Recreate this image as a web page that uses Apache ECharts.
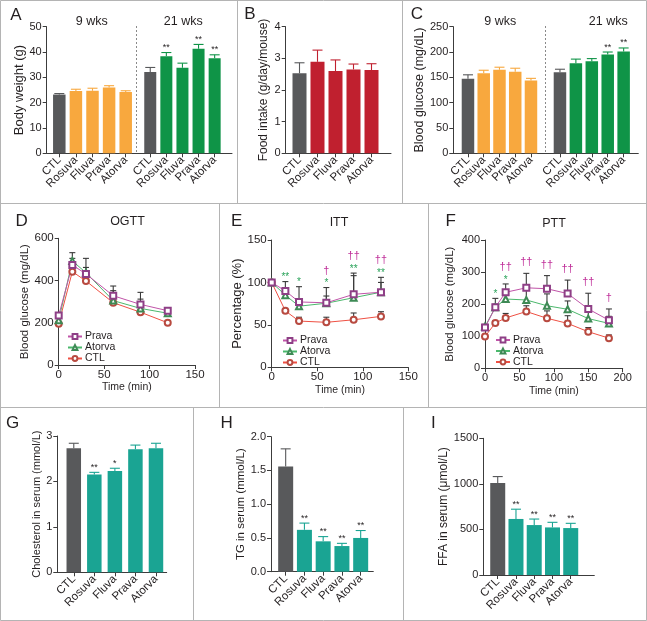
<!DOCTYPE html>
<html><head><meta charset="utf-8">
<script src="https://cdn.jsdelivr.net/npm/echarts@6/dist/echarts.min.js"></script>
<style>html,body{margin:0;padding:0;background:#fff}#c{width:647px;height:621px}</style>
</head><body><div id="c"></div>
<script>
// ---------------- DATA ----------------
const groups = ['CTL', 'Rosuva', 'Fluva', 'Prava', 'Atorva'];
// A: body weight (g)
const bw9 = [23.2, 24.6, 24.7, 26.0, 24.2];
const bw9Err = [23.6, 25.3, 25.7, 26.7, 24.7];
const bw21 = [32.1, 38.3, 33.8, 41.3, 37.5];
const bw21Err = [33.9, 39.8, 35.6, 43.0, 38.9];
const bw21Sig = ['', '**', '', '**', '**'];
// B: food intake
const food = [2.53, 2.89, 2.60, 2.65, 2.63];
const foodErr = [2.86, 3.26, 2.95, 2.82, 2.83];
// C: blood glucose
const glu9 = [147, 158, 165, 161, 144];
const glu9Err = [155, 164, 170, 168, 148];
const glu21 = [160, 178, 182, 195, 201];
const glu21Err = [166, 186, 187, 200, 208];
const glu21Sig = ['', '', '', '**', '**'];
// D: OGTT
const ogttTime = [0, 15, 30, 60, 90, 120];
const ogttPrava = [234, 474, 431, 328, 287, 257];
const ogttPravaErr = [245, 505, 462, 374, 344, 272];
const ogttAtorva = [212, 493, 437, 305, 268, 245];
const ogttAtorvaErr = [224, 532, 505, 352, 312, 262];
const ogttCTL = [195, 442, 398, 295, 250, 200];
const ogttCTLErr = [205, 458, 412, 308, 262, 210];
// E: ITT
const ittTime = [0, 15, 30, 60, 90, 120];
const ittPrava = [100, 90, 77, 76, 86, 88.5];
const ittPravaErr = [100, 101, 95, 94, 111, 106];
const ittAtorva = [100, 85, 72, 75.5, 82, 88.5];
const ittAtorvaErr = [100, 92, 80, 84, 108, 100];
const ittCTL = [100, 66.5, 54.5, 53, 56, 60];
const ittCTLErr = [100, 68, 59, 59, 64, 65.5];
const ittAtorvaSig = ['', '**', '*', '*', '**', '**'];
const ittPravaSig = ['', '', '', '\u2020', '\u2020\u2020', '\u2020\u2020'];
// F: PTT
const pttTime = [0, 15, 30, 60, 90, 120, 150, 180];
const pttPrava = [127, 190, 237, 251, 248, 233, 185, 150];
const pttPravaErr = [135, 218, 263, 296, 289, 275, 234, 185];
const pttAtorva = [130, 190, 216, 213, 195, 184, 155, 140];
const pttAtorvaErr = [137, 200, 240, 250, 232, 210, 178, 162];
const pttCTL = [99, 141, 157, 177, 156, 140, 114, 94];
const pttCTLErr = [104, 147, 171, 195, 179, 164, 127, 104];
const pttAtorvaSig = ['', '*', '*', '', '', '', '', ''];
const pttPravaSig = ['', '', '\u2020\u2020', '\u2020\u2020', '\u2020\u2020', '\u2020\u2020', '\u2020\u2020', '\u2020'];
// G: cholesterol
const chol = [2.73, 2.15, 2.23, 2.71, 2.73];
const cholErr = [2.84, 2.20, 2.29, 2.80, 2.84];
const cholSig = ['', '**', '*', '', ''];
// H: TG
const tg = [1.56, 0.62, 0.45, 0.38, 0.50];
const tgErr = [1.82, 0.72, 0.52, 0.42, 0.61];
const tgSig = ['', '**', '**', '**', '**'];
// I: FFA
const ffa = [1010, 615, 548, 522, 515];
const ffaErr = [1080, 722, 614, 578, 567];
const ffaSig = ['', '**', '**', '**', '**'];

// ---------------- STYLE ----------------
const FF = "'Liberation Sans', Arial, Helvetica, sans-serif";
const TXT = '#231f20', AX = '#3c3c3c', BORDER = '#b4b4b4';
const GRAY = '#58595b', ORANGE = '#f8a83e', GREEN = '#0f9447', RED = '#c0202f', TEAL = '#1aa493';
const ERRC = '#3a3a3a', SIG_G = '#2aa35a', SIG_M = '#c0309a';

const option = {animation: false, backgroundColor: '#ffffff', textStyle: {fontFamily: FF},
  grid: [], xAxis: [], yAxis: [], series: [], legend: [], graphic: []};

function addGrid(r) { option.grid.push(Object.assign({containLabel: false}, r)); return option.grid.length - 1; }

function makeY(gi, y) {
  return {gridIndex: gi, type: 'value', min: y.min, max: y.max, interval: y.interval,
    name: y.name, nameLocation: 'middle', nameGap: y.gap, nameRotate: 90,
    nameTextStyle: {fontSize: y.nameSize, color: TXT, fontFamily: FF},
    axisLine: {show: true, onZero: false, lineStyle: {color: AX, width: 1}},
    axisTick: {show: true, length: 4, lineStyle: {color: AX}},
    axisLabel: {show: true, fontSize: y.labelSize || 11, color: TXT, fontFamily: FF, margin: 5,
      formatter: y.fmt || (v => String(v))},
    splitLine: {show: false}};
}

function errRender(colorOf, cap, sigs, sigSize) {
  return function (params, api) {
    const i = params.dataIndex;
    const base = api.coord([api.value(0), api.value(1)]);
    const top = api.coord([api.value(0), api.value(2)]);
    const c = colorOf(i);
    const ch = [
      {type: 'line', shape: {x1: base[0], y1: base[1], x2: top[0], y2: top[1]}, style: {stroke: c, lineWidth: 1.1}},
      {type: 'line', shape: {x1: top[0] - cap, y1: top[1], x2: top[0] + cap, y2: top[1]}, style: {stroke: c, lineWidth: 1.1}}
    ];
    if (sigs && sigs[i]) ch.push({type: 'text', x: top[0], y: top[1] - 5, style: {text: sigs[i], fill: TXT,
      fontSize: sigSize, fontFamily: FF, align: 'center', textAlign: 'center', verticalAlign: 'middle', textVerticalAlign: 'middle'}});
    return {type: 'group', children: ch};
  };
}

function addBarBase(rect, y) {
  const gi = addGrid(rect);
  option.xAxis.push({gridIndex: gi, type: 'value', min: 0, max: 1,
    axisLine: {show: true, onZero: false, lineStyle: {color: AX, width: 1}},
    axisTick: {show: false}, axisLabel: {show: false}, splitLine: {show: false}});
  option.yAxis.push(makeY(gi, y));
}

function addBarGroup(rect, y, vals, errs, sigs, color, bw, cap, labelSize) {
  const gi = addGrid(rect);
  option.xAxis.push({gridIndex: gi, type: 'category', data: groups,
    axisLine: {show: false}, axisTick: {show: true, alignWithLabel: true, length: 4, lineStyle: {color: AX}},
    axisLabel: {interval: 0, rotate: 45, fontSize: labelSize || 11, color: TXT, fontFamily: FF, margin: 5},
    splitLine: {show: false}});
  option.yAxis.push({gridIndex: gi, type: 'value', min: y.min, max: y.max, show: false});
  const colorOf = i => (i === 0 ? GRAY : color);
  option.series.push({type: 'bar', xAxisIndex: gi, yAxisIndex: gi, data: vals, barWidth: bw,
    itemStyle: {color: p => colorOf(p.dataIndex)}, silent: true, z: 2});
  option.series.push({type: 'custom', xAxisIndex: gi, yAxisIndex: gi,
    data: vals.map((v, i) => [i, v, errs[i]]), encode: {x: 0, y: [1, 2]},
    renderItem: errRender(colorOf, cap, sigs, 9), z: 3, silent: true});
}

function sigRender(greenSig, magSig) {
  return function (params, api) {
    const i = params.dataIndex;
    const p = api.coord([api.value(0), api.value(1)]);
    const ch = [];
    if (greenSig[i]) ch.push({type: 'text', x: p[0], y: p[1] - 4, style: {text: greenSig[i], fill: SIG_G, fontSize: 10,
      fontFamily: FF, align: 'center', textAlign: 'center', verticalAlign: 'middle', textVerticalAlign: 'middle'}});
    if (magSig[i]) ch.push({type: 'text', x: p[0], y: p[1] - (greenSig[i] ? 17 : 11), style: {text: magSig[i], fill: SIG_M,
      fontSize: 11, fontFamily: FF, align: 'center', textAlign: 'center', verticalAlign: 'middle', textVerticalAlign: 'middle'}});
    return {type: 'group', children: ch};
  };
}

function addLinePanel(rect, xa, ya, time, defs, greenSig, magSig, legendPos) {
  const gi = addGrid(rect);
  option.xAxis.push({gridIndex: gi, type: 'value', min: xa.min, max: xa.max, interval: xa.interval,
    name: 'Time (min)', nameLocation: 'middle', nameGap: xa.gap,
    nameTextStyle: {fontSize: 10.5, color: TXT, fontFamily: FF},
    axisLine: {show: true, onZero: false, lineStyle: {color: AX, width: 1}},
    axisTick: {show: true, length: 4, lineStyle: {color: AX}},
    axisLabel: {fontSize: xa.labelSize || 11, color: TXT, fontFamily: FF, margin: 4},
    splitLine: {show: false}});
  option.yAxis.push(makeY(gi, ya));
  defs.forEach(d => {
    option.series.push({type: 'custom', xAxisIndex: gi, yAxisIndex: gi,
      data: time.map((t, i) => [t, d.vals[i], d.errs[i]]), encode: {x: 0, y: [1, 2]},
      renderItem: errRender(() => ERRC, 3, null, 0), z: 2, silent: true});
  });
  defs.slice().reverse().forEach(d => {
    option.series.push({type: 'line', name: d.name, xAxisIndex: gi, yAxisIndex: gi,
      data: time.map((t, i) => [t, d.vals[i]]), symbol: d.symbol, symbolSize: 6,
      lineStyle: {color: d.line, width: 1}, itemStyle: {color: d.sym, borderWidth: 0.9}, z: 4, silent: true});
  });
  if (greenSig) {
    const maxErr = time.map((t, i) => Math.max(...defs.map(d => d.errs[i])));
    option.series.push({type: 'custom', xAxisIndex: gi, yAxisIndex: gi,
      data: time.map((t, i) => [t, maxErr[i]]), encode: {x: 0, y: 1},
      renderItem: sigRender(greenSig, magSig), z: 5, silent: true});
  }
  option.legend.push(Object.assign({orient: 'vertical', padding: 0, itemGap: 0, itemWidth: 14, itemHeight: 6,
    textStyle: {fontSize: 10.5, color: TXT, fontFamily: FF, lineHeight: 11, padding: [0, 0, 0, -2]},
    selectedMode: false, data: defs.map(d => d.name)}, legendPos));
}

const PRAVA = {name: 'Prava', symbol: 'emptyRect', line: '#c054a8', sym: '#8e3f86'};
const ATORVA = {name: 'Atorva', symbol: 'emptyTriangle', line: '#4bb86c', sym: '#3e8a55'};
const CTLS = {name: 'CTL', symbol: 'emptyCircle', line: '#ef5043', sym: '#b84a40'};

// ---------------- PANELS ----------------
// A
const yA = {min: 0, max: 50, interval: 10, name: 'Body weight (g)', gap: 20, nameSize: 13, labelSize: 11};
addBarBase({left: 46.7, top: 26.7, width: 185.3, height: 126.6}, yA);
addBarGroup({left: 51, top: 26.7, width: 83, height: 126.6}, yA, bw9, bw9Err, null, ORANGE, 12.5, 5, 11.5);
addBarGroup({left: 142.2, top: 26.7, width: 80.5, height: 126.6}, yA, bw21, bw21Err, bw21Sig, GREEN, 12, 5, 11.5);
// B
const yB = {min: 0, max: 4, interval: 1, name: 'Food intake (g/day/mouse)', gap: 16, nameSize: 12, labelSize: 11};
addBarBase({left: 285.7, top: 26.7, width: 105.3, height: 126.6}, yB);
addBarGroup({left: 290.5, top: 26.7, width: 90, height: 126.6}, yB, food, foodErr, null, RED, 14, 5, 11.5);
// C
const yC = {min: 0, max: 250, interval: 50, name: 'Blood glucose (mg/dL)', gap: 27, nameSize: 12.5, labelSize: 11};
addBarBase({left: 453.3, top: 26.7, width: 185, height: 126.6}, yC);
addBarGroup({left: 460.1, top: 26.7, width: 78.75, height: 126.6}, yC, glu9, glu9Err, null, ORANGE, 12.5, 5, 11.5);
addBarGroup({left: 552, top: 26.7, width: 79.6, height: 126.6}, yC, glu21, glu21Err, glu21Sig, GREEN, 12.5, 5, 11.5);
// D
addLinePanel({left: 58.7, top: 238.3, width: 136.3, height: 126.7},
  {min: 0, max: 150, interval: 50, gap: 17, labelSize: 11.5},
  {min: 0, max: 600, interval: 200, name: 'Blood glucose (mg/dL)', gap: 28, nameSize: 11.5, labelSize: 11.5},
  ogttTime, [
    Object.assign({vals: ogttPrava, errs: ogttPravaErr}, PRAVA),
    Object.assign({vals: ogttAtorva, errs: ogttAtorvaErr}, ATORVA),
    Object.assign({vals: ogttCTL, errs: ogttCTLErr}, CTLS)], null, null, {left: 67, top: 331});
// E
addLinePanel({left: 271.7, top: 240, width: 136.6, height: 127.3},
  {min: 0, max: 150, interval: 50, gap: 17, labelSize: 11.5},
  {min: 0, max: 150, interval: 50, name: 'Percentage (%)', gap: 26, nameSize: 13, labelSize: 11.5},
  ittTime, [
    Object.assign({vals: ittPrava, errs: ittPravaErr}, PRAVA),
    Object.assign({vals: ittAtorva, errs: ittAtorvaErr}, ATORVA),
    Object.assign({vals: ittCTL, errs: ittCTLErr}, CTLS)], ittAtorvaSig, ittPravaSig, {left: 282, top: 335});
// F
addLinePanel({left: 485, top: 240, width: 137.7, height: 128.3},
  {min: 0, max: 200, interval: 50, gap: 17, labelSize: 11},
  {min: 0, max: 400, interval: 100, name: 'Blood glucose (mg/dL)', gap: 29, nameSize: 11.5, labelSize: 11},
  pttTime, [
    Object.assign({vals: pttPrava, errs: pttPravaErr}, PRAVA),
    Object.assign({vals: pttAtorva, errs: pttAtorvaErr}, ATORVA),
    Object.assign({vals: pttCTL, errs: pttCTLErr}, CTLS)], pttAtorvaSig, pttPravaSig, {left: 495, top: 334.5});
// G
const yG = {min: 0, max: 3, interval: 1, name: 'Cholesterol in serum (mmol/L)', gap: 14, nameSize: 11, labelSize: 11};
addBarBase({left: 57.3, top: 436, width: 109.4, height: 136.3}, yG);
addBarGroup({left: 63.5, top: 436, width: 102.75, height: 136.3}, yG, chol, cholErr, cholSig, TEAL, 14.5, 5, 11.5);
// H
const yH = {min: 0, max: 2, interval: 0.5, name: 'TG in serum (mmol/L)', gap: 24, nameSize: 11.5, labelSize: 11,
  fmt: v => v.toFixed(1)};
addBarBase({left: 271, top: 436.7, width: 102.3, height: 135}, yH);
addBarGroup({left: 276.3, top: 436.7, width: 93.75, height: 135}, yH, tg, tgErr, tgSig, TEAL, 15, 5, 11.5);
// I
const yI = {min: 0, max: 1500, interval: 500, name: 'FFA in serum (\u03bcmol/L)', gap: 32, nameSize: 12, labelSize: 11};
addBarBase({left: 483.3, top: 438.3, width: 111, height: 136.7}, yI);
addBarGroup({left: 488.6, top: 438.3, width: 91.25, height: 136.7}, yI, ffa, ffaErr, ffaSig, TEAL, 15, 5, 11.5);

// ---------------- DECORATION ----------------
function gLine(x1, y1, x2, y2, stroke, dash) {
  option.graphic.push({type: 'line', silent: true, shape: {x1, y1, x2, y2},
    style: {stroke: stroke || BORDER, lineWidth: 1, lineDash: dash || null}});
}
function gText(text, x, y, size, color) {
  option.graphic.push({type: 'text', silent: true, x, y, style: {text, fontSize: size, fontFamily: FF, fill: color || TXT,
    align: 'center', textAlign: 'center', verticalAlign: 'middle', textVerticalAlign: 'middle'}});
}
option.graphic.push({type: 'rect', silent: true, shape: {x: 0.5, y: 0.5, width: 646, height: 620},
  style: {fill: 'none', stroke: BORDER, lineWidth: 1}});
gLine(0, 203.5, 647, 203.5); gLine(0, 407.5, 647, 407.5);
gLine(237.5, 0, 237.5, 203.5); gLine(402.5, 0, 402.5, 203.5);
gLine(219.5, 203.5, 219.5, 407.5); gLine(428.5, 203.5, 428.5, 407.5);
gLine(193.5, 407.5, 193.5, 621); gLine(403.5, 407.5, 403.5, 621);
gLine(136.5, 26, 136.5, 153, '#8a8a8a', [2, 2]);
gLine(545.5, 26, 545.5, 153, '#8a8a8a', [2, 2]);
// panel letters & titles
gText('A', 16, 15, 17); gText('B', 250, 14, 17); gText('C', 417, 14, 17);
gText('D', 21.7, 221.5, 17); gText('E', 236.7, 221.5, 17); gText('F', 450.8, 221.5, 17);
gText('G', 12.5, 423.3, 17); gText('H', 226.7, 423.3, 17); gText('I', 433.3, 423.3, 17);
gText('9 wks', 91.7, 21.7, 12.5); gText('21 wks', 183.3, 21.7, 12.5);
gText('9 wks', 500.3, 21.7, 12.5); gText('21 wks', 608.3, 21.7, 12.5);
gText('OGTT', 127.5, 221.7, 12.5); gText('ITT', 339, 223, 12.5); gText('PTT', 554, 224, 12.5);

const chart = echarts.init(document.getElementById('c'), null, {renderer: 'canvas'});
chart.setOption(option);
</script></body></html>
